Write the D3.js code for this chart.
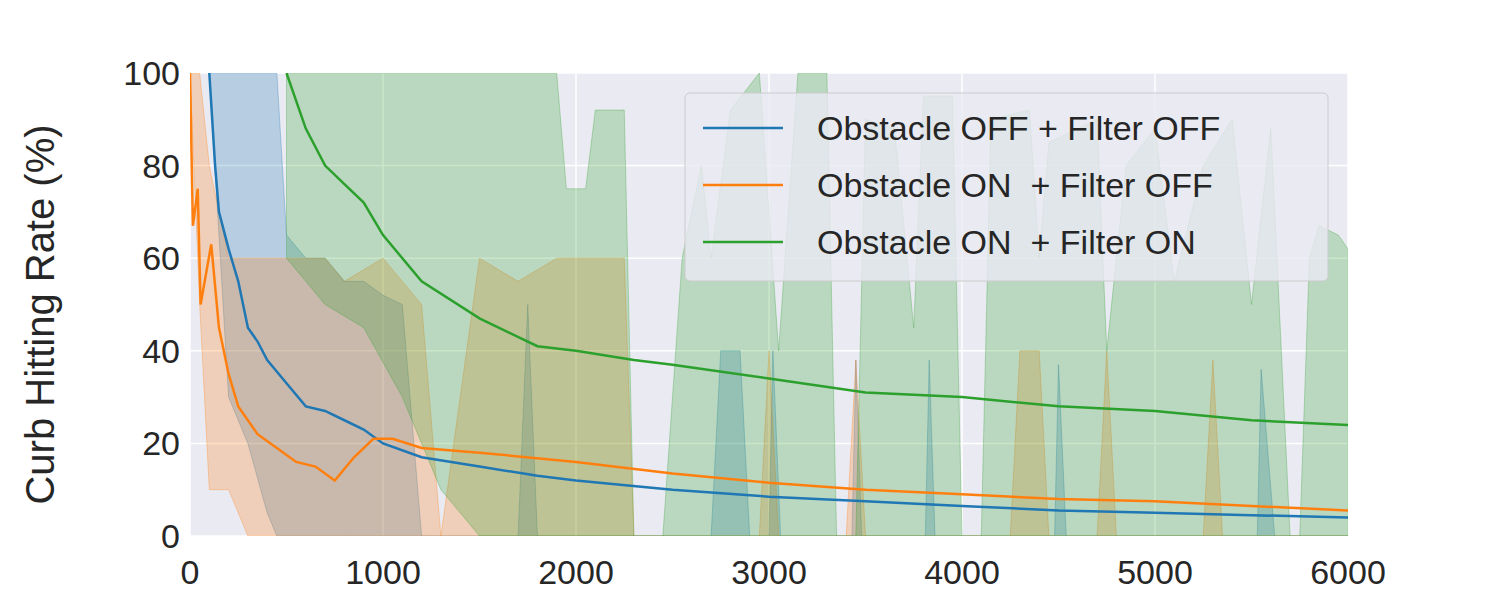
<!DOCTYPE html>
<html><head><meta charset="utf-8">
<script src="https://cdn.jsdelivr.net/npm/d3@7"></script>
<style>body{margin:0;background:#fff}</style>
</head><body><svg id="c" width="1500" height="600"></svg>
<script>
var seriesNames = ["Obstacle OFF + Filter OFF", "Obstacle ON  + Filter OFF", "Obstacle ON  + Filter ON"];
var colors = ["#1f77b4", "#ff7f0e", "#2ca02c"];
var xTicks = [0, 1000, 2000, 3000, 4000, 5000, 6000];
var yTicks = [0, 20, 40, 60, 80, 100];

var blueMean = [[100,100],[130,80],[150,70],[200,62],[250,55],[300,45],[350,42],[400,38],[500,33],[600,28],[700,27],[800,25],[900,23],[1000,20],[1200,17],[1500,15],[1800,13],[2000,12],[2500,10],[3000,8.5],[3500,7.5],[4000,6.5],[4500,5.5],[5000,5],[5500,4.5],[6000,4]];
var orangeMean = [[0,100],[15,67],[40,75],[55,50],[110,63],[150,45],[200,35],[250,28],[350,22],[450,19],[550,16],[650,15],[750,12],[850,17],[950,21],[1050,21],[1200,19],[1500,18],[2000,16],[2500,13.5],[3000,11.5],[3500,10],[4000,9],[4500,8],[5000,7.5],[5500,6.5],[6000,5.5]];
var greenMean = [[500,100],[600,88],[700,80],[800,76],[900,72],[1000,65],[1200,55],[1500,47],[1800,41],[2000,40],[2300,38],[2500,37],[3000,34],[3500,31],[4000,30],[4500,28],[5000,27],[5500,25],[6000,24]];

// band: [x, low, high]
var blueBand = [[100,100,100],[200,30,100],[300,20,100],[400,5,100],[450,0,100],[500,0,65],[600,0,60],[700,0,60],[800,0,55],[900,0,55],[1000,0,52],[1100,0,50],[1200,0,0],[1700,0,0],[1750,0,50],[1800,0,0],[2700,0,0],[2750,0,40],[2850,0,40],[2900,0,0],[3000,0,0],[3020,0,40],[3060,0,0],[3430,0,0],[3450,0,38],[3480,0,0],[3810,0,0],[3830,0,38],[3860,0,0],[4480,0,0],[4500,0,37],[4540,0,0],[5530,0,0],[5550,0,36],[5620,0,0],[6000,0,0]];
var orangeBand = [[0,100,100],[50,50,100],[100,10,80],[200,10,60],[300,0,60],[500,0,60],[700,0,60],[800,0,55],[1000,0,60],[1200,0,50],[1300,0,0],[1500,0,60],[1700,0,55],[1900,0,60],[2100,0,60],[2250,0,60],[2300,0,0],[2950,0,0],[3000,0,40],[3050,0,0],[3400,0,0],[3450,0,38],[3500,0,0],[4250,0,0],[4300,0,40],[4400,0,40],[4450,0,0],[4700,0,0],[4750,0,40],[4800,0,0],[5250,0,0],[5300,0,38],[5350,0,0],[6000,0,0]];
var greenBand = [[500,60,100],[700,50,100],[900,45,100],[1100,30,100],[1300,10,100],[1500,0,100],[1800,0,100],[1900,0,100],[1950,0,75],[2050,0,75],[2100,0,92],[2250,0,92],[2300,0,0],[2450,0,0],[2550,0,60],[2650,0,80],[2700,0,60],[2800,0,92],[2950,0,100],[3050,0,40],[3150,0,100],[3300,0,100],[3350,0,0],[3450,0,0],[3500,0,90],[3650,0,88],[3750,0,45],[3800,0,95],[3950,0,95],[4000,0,0],[4100,0,0],[4150,0,90],[4350,0,92],[4400,0,60],[4450,0,85],[4700,0,90],[4750,0,40],[4850,0,80],[5000,0,88],[5100,0,55],[5250,0,80],[5400,0,90],[5500,0,50],[5600,0,88],[5700,0,0],[5750,0,0],[5800,0,60],[5850,0,67],[5950,0,65],[6000,0,62]];

var svg = d3.select("#c");
var margin = {left: 190, top: 73, right: 152, bottom: 64};
var width = 1500 - margin.left - margin.right;
var height = 600 - margin.top - margin.bottom;
var g = svg.append("g").attr("transform", `translate(${margin.left},${margin.top})`);

var x = d3.scaleLinear().domain([0, 6000]).range([0, width]);
var y = d3.scaleLinear().domain([0, 100]).range([height, 0]);

g.append("rect").attr("width", width).attr("height", height).attr("fill", "#eaeaf2");
g.append("defs").append("clipPath").attr("id", "clip").append("rect").attr("width", width).attr("height", height);

g.selectAll(".gx").data(xTicks).enter().append("line")
    .attr("x1", d => x(d)).attr("x2", d => x(d)).attr("y1", 0).attr("y2", height)
    .attr("stroke", "#fff").attr("stroke-width", 1.5);
g.selectAll(".gy").data(yTicks).enter().append("line")
    .attr("y1", d => y(d)).attr("y2", d => y(d)).attr("x1", 0).attr("x2", width)
    .attr("stroke", "#fff").attr("stroke-width", 1.5);

var plot = g.append("g").attr("clip-path", "url(#clip)");
var area = d3.area().x(d => x(d[0])).y0(d => y(d[1])).y1(d => y(d[2]));
var line = d3.line().x(d => x(d[0])).y(d => y(d[1]));

[blueBand, orangeBand, greenBand].forEach(function(b, i) {
    plot.append("path").attr("d", area(b)).attr("fill", colors[i]).attr("fill-opacity", 0.25)
        .attr("stroke", colors[i]).attr("stroke-opacity", 0.3);
});
[blueMean, orangeMean, greenMean].forEach(function(m, i) {
    plot.append("path").attr("d", line(m)).attr("fill", "none").attr("stroke", colors[i]).attr("stroke-width", 2.5);
});

var font = "Arial, Liberation Sans";
g.selectAll(".xt").data(xTicks).enter().append("text")
    .attr("x", d => x(d)).attr("y", height + 48).attr("text-anchor", "middle")
    .attr("font-family", font).attr("font-size", 34).attr("fill", "#262626").text(d => d);
g.selectAll(".yt").data(yTicks).enter().append("text")
    .attr("x", -10).attr("y", d => y(d) + 12).attr("text-anchor", "end")
    .attr("font-family", font).attr("font-size", 34).attr("fill", "#262626").text(d => d);
g.append("text").attr("transform", `translate(-136,${height / 2 + 10}) rotate(-90)`)
    .attr("text-anchor", "middle").attr("font-family", font).attr("font-size", 40)
    .attr("fill", "#262626").text("Curb Hitting Rate (%)");

var leg = g.append("g").attr("transform", "translate(495,20)");
leg.append("rect").attr("width", 643).attr("height", 188).attr("rx", 5)
    .attr("fill", "#eaeaf2").attr("fill-opacity", 0.8).attr("stroke", "#ccc");
seriesNames.forEach(function(n, i) {
    var yy = 35 + i * 57;
    leg.append("line").attr("x1", 18).attr("x2", 98).attr("y1", yy).attr("y2", yy)
        .attr("stroke", colors[i]).attr("stroke-width", 2.5);
    leg.append("text").attr("x", 132).attr("y", yy + 12).attr("font-family", font)
        .attr("font-size", 34).attr("fill", "#262626").attr("xml:space", "preserve").text(n);
});
</script></body></html>
